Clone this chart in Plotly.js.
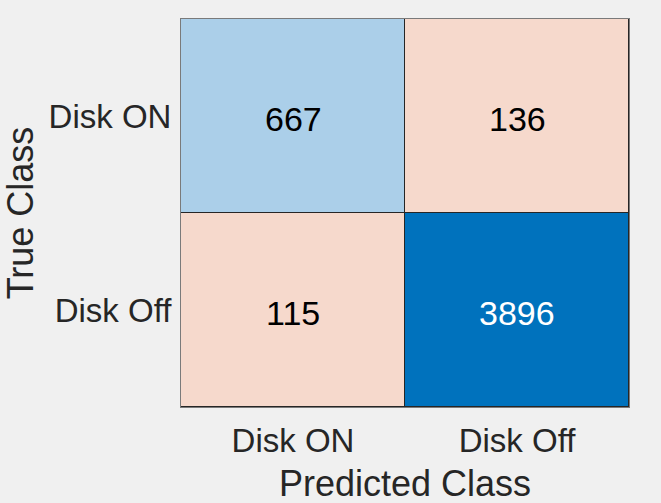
<!DOCTYPE html>
<html>
<head>
<meta charset="utf-8">
<script src="https://cdn.plot.ly/plotly-3.0.1.min.js"></script>
<style>
  html, body { margin: 0; padding: 0; background: #f0f0f0; }
  #chart { width: 661px; height: 503px; }
</style>
</head>
<body>
<div id="chart"></div>
<script>
// Confusion matrix data
const classes = ['Disk ON', 'Disk Off'];
const trueLabels = ['Disk ON', 'Disk Off'];
const predictedLabels = ['Disk ON', 'Disk Off'];
const counts = [
    [667, 136],
    [115, 3896]
];
const xTitle = 'Predicted Class';
const yTitle = 'True Class';

// Split matrix into diagonal (correct) and off-diagonal (wrong) cells
const diagZ = counts.map((row, i) => row.map((v, j) => i === j ? v : null));
const offZ = counts.map((row, i) => row.map((v, j) => i !== j ? v : null));
const diagVals = counts.map((row, i) => row[i]);
const diagMin = Math.min(...diagVals);
const diagMax = Math.max(...diagVals);

const font = 'Liberation Sans, Arial, Helvetica, sans-serif';

const traces = [
    {
        type: 'heatmap',
        x: predictedLabels,
        y: trueLabels,
        z: diagZ,
        zmin: diagMin,
        zmax: diagMax,
        colorscale: [[0, '#abcfe9'], [1, '#0072bd']],
        showscale: false,
        xgap: 1,
        ygap: 1,
        hoverinfo: 'x+y+z'
    },
    {
        type: 'heatmap',
        x: predictedLabels,
        y: trueLabels,
        z: offZ,
        zmin: 0,
        zmax: 4000,
        colorscale: [[0, '#f6d9cc'], [1, '#f6d9cc']],
        showscale: false,
        xgap: 1,
        ygap: 1,
        hoverinfo: 'x+y+z'
    }
];

// Cell count labels
const annotations = [];
counts.forEach((row, i) => {
    row.forEach((v, j) => {
        const dark = i === j && v > (diagMin + diagMax) / 2;
        annotations.push({
            x: predictedLabels[j],
            y: trueLabels[i],
            text: String(v),
            showarrow: false,
            yshift: -3,
            font: { family: font, size: 34, color: dark ? '#ffffff' : '#000000' }
        });
    });
});

// x-axis title as annotation so it can sit lower than the margin allows
annotations.push({
    xref: 'paper', yref: 'paper',
    x: 0.5, y: 0,
    xanchor: 'center', yanchor: 'top',
    yshift: -54,
    text: xTitle,
    showarrow: false,
    font: { family: font, size: 36, color: '#262626' }
});

const layout = {
    width: 661,
    height: 503,
    margin: { l: 181, r: 32, t: 19, b: 96 },
    paper_bgcolor: '#f0f0f0',
    plot_bgcolor: '#262626',
    font: { family: font, color: '#262626' },
    xaxis: {
        type: 'category',
        categoryarray: classes,
        showgrid: false,
        zeroline: false,
        showline: true,
        mirror: true,
        linecolor: '#7a7a7a',
        linewidth: 1,
        ticks: '',
        ticklabelstandoff: 4,
        tickfont: { family: font, size: 33, color: '#262626' },
        automargin: false
    },
    yaxis: {
        type: 'category',
        categoryarray: classes,
        autorange: 'reversed',
        showgrid: false,
        zeroline: false,
        showline: true,
        mirror: true,
        linecolor: '#7a7a7a',
        linewidth: 1,
        ticks: '',
        ticklabelstandoff: 2,
        tickfont: { family: font, size: 33, color: '#262626' },
        title: { text: yTitle, font: { family: font, size: 36, color: '#262626' }, standoff: 4 }
    },
    annotations: annotations,
    showlegend: false
};

Plotly.newPlot('chart', traces, layout, { displayModeBar: false, staticPlot: true });
</script>
</body>
</html>
